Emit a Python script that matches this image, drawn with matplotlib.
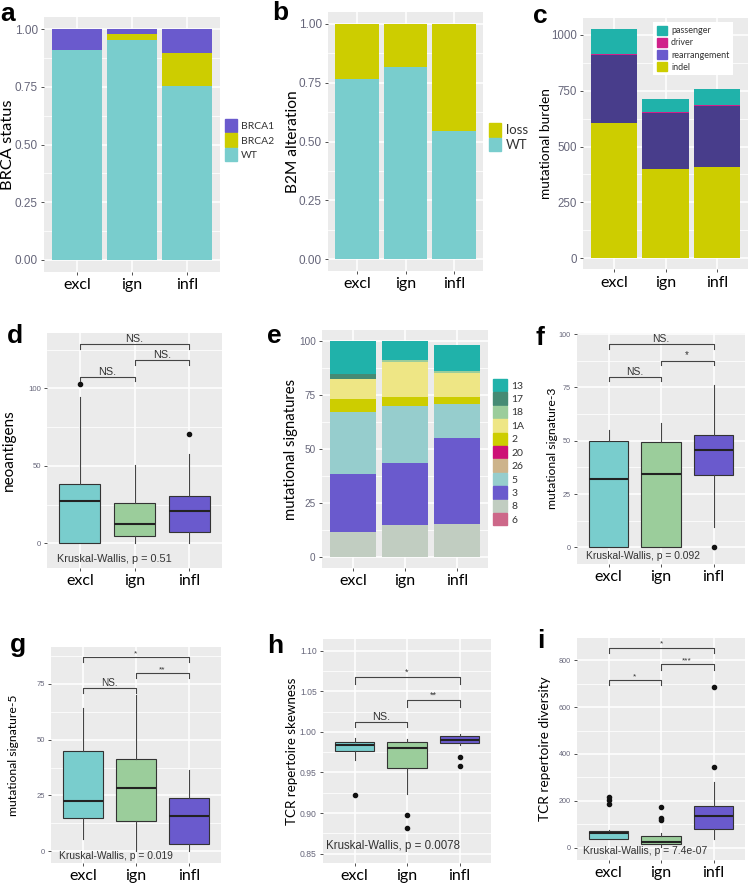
import matplotlib
matplotlib.use("Agg")
import matplotlib.pyplot as plt
from matplotlib.patches import Patch
from matplotlib.ticker import MultipleLocator, FormatStrFormatter

plt.rcParams["font.family"] = ["Liberation Sans", "DejaVu Sans"]

# --- data ---
groups = ["excl", "ign", "infl"]

# a: BRCA status (fractions)
brca_wt = [0.910, 0.951, 0.754]
brca2 = [0.000, 0.027, 0.142]
brca1 = [0.090, 0.022, 0.104]

# b: B2M alteration
b2m_wt = [0.765, 0.817, 0.545]
b2m_loss = [0.235, 0.183, 0.455]

# c: mutational burden
burden_indel = [607, 398, 410]
burden_rearr = [303, 254, 272]
burden_driver = [5, 3, 3]
burden_passenger = [112, 60, 72]

# e: mutational signatures, stacked bottom -> top
sig_names = ["6", "8", "3", "5", "26", "20", "2", "1A", "18", "17", "13"]
sig_excl = [0, 11.6, 26.8, 28.6, 0, 0, 6.1, 9.1, 0, 2.3, 15.5]
sig_ign = [0, 14.7, 28.7, 26.6, 0, 0, 4.1, 16.1, 0.8, 0, 9.0]
sig_infl = [0, 15.5, 39.8, 15.3, 0, 0, 3.5, 11.2, 0.9, 0, 11.9]
legend_order = ["13", "17", "18", "1A", "2", "20", "26", "5", "3", "8", "6"]

# d: neoantigens
neo_q1 = [0, 5.0, 7.1]
neo_med = [27.5, 12.3, 20.9]
neo_q3 = [38.0, 25.8, 30.5]
neo_lo = [0, 0, 0]
neo_hi = [94.6, 50.5, 57.4]
neo_out = [[102.5], [], [70.3]]

# f: signature-3
s3_q1 = [0, 0, 34.0]
s3_med = [32.2, 34.6, 45.7]
s3_q3 = [49.9, 49.6, 52.9]
s3_lo = [0, 0, 9.7]
s3_hi = [54.8, 58.2, 76.2]
s3_out = [[], [], [0]]

# g: signature-5
s5_q1 = [15.0, 13.4, 3.3]
s5_med = [22.4, 28.2, 15.8]
s5_q3 = [45.0, 41.2, 23.8]
s5_lo = [5.5, 0, 0]
s5_hi = [63.9, 69.8, 36.4]
s5_out = [[], [], []]

# h: TCR repertoire skewness
sk_q1 = [0.9765, 0.956, 0.9864]
sk_med = [0.9835, 0.980, 0.9897]
sk_q3 = [0.9872, 0.988, 0.995]
sk_lo = [0.965, 0.9238, 0.9843]
sk_hi = [0.9926, 0.9918, 0.998]
sk_out = [[0.9226], [0.8978, 0.8814], [0.969, 0.9576]]

# i: TCR repertoire diversity
dv_q1 = [35.6, 15.7, 80]
dv_med = [61.3, 25.7, 135.5]
dv_q3 = [72.7, 50, 178]
dv_lo = [35.6, 4, 35.6]
dv_hi = [76, 64, 278]
dv_out = [[185, 204, 215], [175, 118, 125], [346, 684]]

kw_labels = ["Kruskal-Wallis, p = 0.51", "Kruskal-Wallis, p = 0.092",
             "Kruskal-Wallis, p = 0.019", "Kruskal-Wallis, p = 0.0078",
             "Kruskal-Wallis, p = 7.4e-07"]

# --- colours ---
c_wt = "#79CDCD"
c_yel = "#CDCD00"
c_purple = "#6A5ACD"
box_colors = ["#79CDCD", "#9BCD9B", "#6A5ACD"]
burden_colors = ["#CDCD00", "#483D8B", "#D0208A", "#20B2AA"]
sig_colors = {"13": "#20B2AA", "17": "#458B74", "18": "#9BCD9B", "1A": "#EEE685",
              "2": "#CDCD00", "20": "#CD1076", "26": "#CDB38B", "5": "#96CDCD",
              "3": "#6A5ACD", "8": "#C1CDC1", "6": "#CD6889"}

W, H = 748, 886
fig = plt.figure(figsize=(W / 100, H / 100), dpi=100)


def make_ax(x0, y0, x1, y1):
    ax = fig.add_axes([x0 / W, 1 - y1 / H, (x1 - x0) / W, (y1 - y0) / H])
    ax._px = (x0, x1)
    return ax


def gg(ax, ylim, major, tsize, ylabel, lsize, lx, fmt="%d"):
    ax.set_facecolor("#EBEBEB")
    for s in ax.spines.values():
        s.set_visible(False)
    ax.set_xlim(0.4, 3.6)
    ax.set_ylim(*ylim)
    ax.yaxis.set_major_locator(MultipleLocator(major))
    ax.yaxis.set_minor_locator(MultipleLocator(major / 2))
    ax.yaxis.set_major_formatter(FormatStrFormatter(fmt))
    ax.grid(which="major", color="white", lw=1.1)
    ax.grid(which="minor", axis="y", color="white", lw=0.55)
    ax.set_axisbelow(True)
    ax.set_xticks([1, 2, 3])
    ax.set_xticklabels(groups, fontfamily="Lato", fontsize=11.5, color="black")
    ax.tick_params(which="major", length=2.5, width=0.6, color="#333333", pad=2)
    ax.tick_params(which="minor", length=0)
    ax.tick_params(axis="y", labelsize=tsize, labelcolor="#66667a")
    ax.set_ylabel(ylabel, fontfamily="Lato", fontsize=lsize)
    x0, x1 = ax._px
    ax.yaxis.set_label_coords((lx - x0) / (x1 - x0), 0.5)


def boxes(ax, q1, med, q3, lo, hi, out):
    stats = [dict(q1=q1[i], med=med[i], q3=q3[i], whislo=lo[i], whishi=hi[i],
                  fliers=out[i]) for i in range(3)]
    bp = ax.bxp(stats, positions=[1, 2, 3], widths=0.75, patch_artist=True,
                showcaps=False, manage_ticks=False,
                boxprops=dict(edgecolor="#333333", lw=0.8),
                medianprops=dict(color="#222222", lw=1.5),
                whiskerprops=dict(color="#444444", lw=0.8),
                flierprops=dict(marker="o", markersize=3.0, markerfacecolor="#111111",
                                markeredgecolor="#111111"))
    for p, c in zip(bp["boxes"], box_colors):
        p.set_facecolor(c)


def bracket(ax, x1, x2, y, tip, label, fs=7):
    ax.plot([x1, x1, x2, x2], [y - tip, y, y, y - tip], color="#444444", lw=0.8)
    ax.text((x1 + x2) / 2, y, label, ha="center", va="bottom", fontsize=fs, color="#333333")


def kw(ax, x, y, label, fs):
    ax.text(x, y, label, ha="left", va="center", fontsize=fs, color="#333333")


def legend(ax, handles, x, y, fs, hl, hh, ls=0.1):
    leg = ax.legend(handles=handles, loc="upper left", bbox_to_anchor=(x / W, 1 - y / H),
                    bbox_transform=fig.transFigure, frameon=False, borderpad=0,
                    borderaxespad=0, handlelength=hl, handleheight=hh, labelspacing=ls,
                    handletextpad=0.4, prop={"family": "Lato", "size": fs})
    for t in leg.get_texts():
        t.set_color("#333333")
    return leg


pos = [1, 2, 3]

# --- a ---
ax = make_ax(44, 17, 220, 272)
gg(ax, (-0.052, 1.052), 0.25, 8.5, "BRCA status", 11.8, 15, fmt="%.2f")
ax.bar(pos, brca_wt, 0.9, color=c_wt)
ax.bar(pos, brca2, 0.9, bottom=brca_wt, color=c_yel)
ax.bar(pos, brca1, 0.9, bottom=[w + b for w, b in zip(brca_wt, brca2)], color=c_purple)
legend(ax, [Patch(color=c_purple, label="BRCA1"), Patch(color=c_yel, label="BRCA2"),
            Patch(color=c_wt, label="WT")], 225, 119, 7.5, 1.15, 1.6)

# --- b ---
ax = make_ax(328, 12, 483, 271)
gg(ax, (-0.05, 1.05), 0.25, 8.5, "B2M alteration", 11.2, 300, fmt="%.2f")
ax.bar(pos, b2m_wt, 0.9, color=c_wt)
ax.bar(pos, b2m_loss, 0.9, bottom=b2m_wt, color=c_yel)
legend(ax, [Patch(color=c_yel, label="loss"), Patch(color=c_wt, label="WT")],
       489, 123, 9.5, 0.9, 1.2)

# --- c ---
ax = make_ax(583, 17.6, 748, 269.4)
gg(ax, (-51, 1078), 250, 8.3, "mutational burden", 9.8, 552)
bottom = [0, 0, 0]
for vals, col in zip([burden_indel, burden_rearr, burden_driver, burden_passenger], burden_colors):
    ax.bar(pos, vals, 0.9, bottom=bottom, color=col)
    bottom = [b + v for b, v in zip(bottom, vals)]
leg = ax.legend(handles=[Patch(color="#20B2AA", label="passenger"),
                         Patch(color="#D0208A", label="driver"),
                         Patch(color="#6A5ACD", label="rearrangement"),
                         Patch(color="#CDCD00", label="indel")],
                loc="upper left", bbox_to_anchor=(653 / W, 1 - 22 / H),
                bbox_transform=fig.transFigure, frameon=True, facecolor="white",
                edgecolor="none", framealpha=1, fancybox=False, borderpad=0.4,
                borderaxespad=0, handlelength=1.2, handleheight=1.25, labelspacing=0.25,
                handletextpad=0.4, prop={"family": "Lato", "size": 6.5})
for t in leg.get_texts():
    t.set_color("#333333")

# --- d ---
ax = make_ax(47, 333, 222, 568)
gg(ax, (-15.9, 135.7), 50, 5.6, "neoantigens", 11, 16)
boxes(ax, neo_q1, neo_med, neo_q3, neo_lo, neo_hi, neo_out)
bracket(ax, 1, 2, 107.5, 2.8, "NS.", 7.8)
bracket(ax, 2, 3, 118.3, 3.0, "NS.", 7.8)
bracket(ax, 1, 3, 128.4, 3.0, "NS.", 7.8)
kw(ax, 0.58, -10.3, kw_labels[0], 7.8)

# --- e ---
ax = make_ax(322, 330, 488, 568)
gg(ax, (-5, 105), 25, 7.2, "mutational signatures", 10.7, 298)
bottom = [0, 0, 0]
for k, name in enumerate(sig_names):
    vals = [sig_excl[k], sig_ign[k], sig_infl[k]]
    ax.bar(pos, vals, 0.9, bottom=bottom, color=sig_colors[name])
    bottom = [b + v for b, v in zip(bottom, vals)]
legend(ax, [Patch(color=sig_colors[n], label=n) for n in legend_order],
       493, 379, 7.5, 1.35, 1.45)

# --- f ---
ax = make_ax(577, 333, 745, 564)
gg(ax, (-7.8, 100.5), 25, 5.2, "mutational signature-3", 8.8, 558)
boxes(ax, s3_q1, s3_med, s3_q3, s3_lo, s3_hi, s3_out)
bracket(ax, 1, 2, 79.8, 2.0, "NS.", 7.5)
bracket(ax, 2, 3, 87.6, 2.0, "*", 7)
bracket(ax, 1, 3, 95.5, 2.4, "NS.", 7.5)
kw(ax, 0.58, -3.9, kw_labels[1], 7.4)

# --- g ---
ax = make_ax(51, 647, 221, 863)
gg(ax, (-5.2, 91.4), 25, 5.5, "mutational signature-5", 8.8, 19)
boxes(ax, s5_q1, s5_med, s5_q3, s5_lo, s5_hi, s5_out)
bracket(ax, 1, 2, 73.1, 2.2, "NS.", 7.2)
bracket(ax, 2, 3, 79.8, 2.1, "**", 6)
bracket(ax, 1, 3, 86.9, 2.2, "*", 6)
kw(ax, 0.55, -1.9, kw_labels[2], 7.4)

# --- h ---
ax = make_ax(323, 639, 491, 863)
gg(ax, (0.8385, 1.1144), 0.05, 6.2, "TCR repertoire skewness", 9.6, 298, fmt="%.2f")
boxes(ax, sk_q1, sk_med, sk_q3, sk_lo, sk_hi, sk_out)
bracket(ax, 1, 2, 1.0124, 0.0062, "NS.", 7.8)
bracket(ax, 2, 3, 1.0395, 0.0085, "**", 6.5)
bracket(ax, 1, 3, 1.0675, 0.0085, "*", 6.5)
kw(ax, 0.46, 0.859, kw_labels[3], 8.3)

# --- i ---
ax = make_ax(577, 638, 745, 860)
gg(ax, (-53, 895), 200, 5.2, "TCR repertoire diversity", 9.8, 551)
boxes(ax, dv_q1, dv_med, dv_q3, dv_lo, dv_hi, dv_out)
bracket(ax, 1, 2, 714, 21, "*", 6)
bracket(ax, 2, 3, 784, 24, "***", 6)
bracket(ax, 1, 3, 853, 22, "*", 6)
kw(ax, 0.52, -13, kw_labels[4], 7.5)

# --- panel letters ---
for letter, x, y in [("a", 0, 21), ("b", 272, 20), ("c", 533, 23), ("d", 7, 343),
                     ("e", 267, 343), ("f", 535, 345), ("g", 10, 652), ("h", 267, 653),
                     ("i", 537, 648)]:
    fig.text(x / W, 1 - y / H, letter, fontsize=19, fontweight="bold",
             ha="left", va="baseline")

fig.savefig("out.png", dpi=100)
